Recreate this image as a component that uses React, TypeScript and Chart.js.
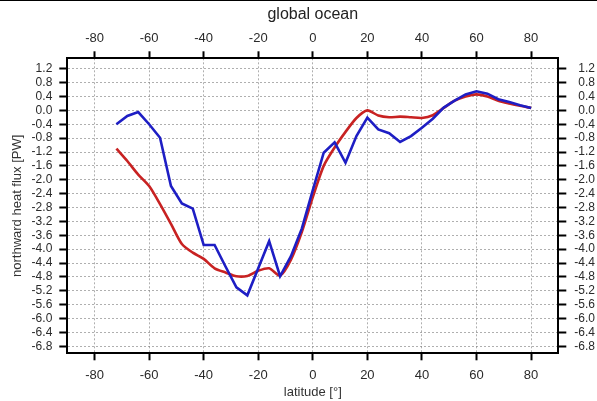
import React, { useEffect, useRef } from "react";
import { Chart, registerables } from "chart.js";

Chart.register(...registerables);

// latitude grid [deg]
const latitudes = [
  -72, -68, -64, -60, -56, -52, -48, -44, -40, -36, -32, -28, -24, -20, -16, -12, -8, -4, 0,
  4, 8, 12, 16, 20, 24, 28, 32, 36, 40, 44, 48, 52, 56, 60, 64, 68, 72, 76, 80,
];

// red curve (model) northward heat flux [PW]
const modelFlux = [
  -1.10, -1.46, -1.85, -2.18, -2.70, -3.27, -3.85, -4.10, -4.28, -4.55, -4.67, -4.78, -4.77, -4.62,
  -4.55, -4.76, -4.30, -3.50, -2.50, -1.60, -1.07, -0.62, -0.22, 0.00, -0.15, -0.20, -0.18, -0.20,
  -0.22, -0.14, 0.07, 0.28, 0.40, 0.46, 0.40, 0.28, 0.20, 0.13, 0.07,
];

// blue curve (observation-based) northward heat flux [PW]
const obsFlux = [
  -0.40, -0.16, -0.05, -0.40, -0.79, -2.18, -2.68, -2.83, -3.88, -3.88, -4.50, -5.10, -5.33, -4.55,
  -3.77, -4.78, -4.20, -3.40, -2.30, -1.22, -0.92, -1.51, -0.74, -0.21, -0.55, -0.66, -0.91, -0.74,
  -0.50, -0.24, 0.08, 0.28, 0.46, 0.55, 0.48, 0.32, 0.24, 0.15, 0.07,
];

const xTickValues = [-80, -60, -40, -20, 0, 20, 40, 60, 80];
const yTickValues = [
  1.2, 0.8, 0.4, 0.0, -0.4, -0.8, -1.2, -1.6, -2.0, -2.4, -2.8, -3.2, -3.6, -4.0, -4.4, -4.8,
  -5.2, -5.6, -6.0, -6.4, -6.8,
];

const titleText = "global ocean";
const xTitle = "latitude [°]";
const yTitle = "northward heat flux [PW]";

const FONT = "'Liberation Sans', Arial, Helvetica, sans-serif";
const RED = "#c82222";
const BLUE = "#1e1ec4";

export default function App() {
  const ref = useRef<HTMLCanvasElement>(null);

  useEffect(() => {
    if (!ref.current) return;
    const setX = (s: any) => {
      s.ticks = xTickValues.map((v) => ({ value: v }));
    };
    const setY = (s: any) => {
      s.ticks = yTickValues.map((v) => ({ value: v }));
    };
    const gridOn = {
      display: true,
      drawOnChartArea: true,
      color: "rgba(110,110,110,0.55)",
      lineWidth: 1,
      tickColor: "#000",
      tickWidth: 2,
    };
    const gridOff = { ...gridOn, drawOnChartArea: false };
    const border = { display: true, color: "#000", width: 2, dash: [2, 2] };
    const xTickFont = { family: FONT, size: 13 };
    const yTickFont = { family: FONT, size: 12 };

    const topLine = {
      id: "topLine",
      afterDraw(chart: any) {
        const { ctx } = chart;
        ctx.save();
        ctx.fillStyle = "#000";
        ctx.fillRect(0, 0, chart.width, 1);
        ctx.restore();
      },
    };

    const chart = new Chart(ref.current, {
      type: "line",
      data: {
        datasets: [
          {
            label: "blue",
            data: latitudes.map((x, i) => ({ x, y: obsFlux[i] })),
            borderColor: BLUE,
            backgroundColor: BLUE,
            borderWidth: 2.6,
            pointRadius: 0,
            tension: 0,
            xAxisID: "x",
            yAxisID: "y",
          },
          {
            label: "red",
            data: latitudes.map((x, i) => ({ x, y: modelFlux[i] })),
            borderColor: RED,
            backgroundColor: RED,
            borderWidth: 2.6,
            pointRadius: 0,
            tension: 0.25,
            xAxisID: "x",
            yAxisID: "y",
          },
        ],
      },
      options: {
        animation: false,
        responsive: true,
        maintainAspectRatio: false,
        layout: { padding: { left: 0, right: 2, top: 0, bottom: 0 } },
        plugins: {
          legend: { display: false },
          tooltip: { enabled: false },
          title: { display: false },
        },
        scales: {
          x: {
            type: "linear",
            position: "bottom",
            min: -90,
            max: 90,
            afterBuildTicks: setX,
            afterFit: (s: any) => {
              s.height = 47.7;
            },
            grid: { ...gridOn, tickLength: 7 },
            border,
            ticks: {
              autoSkip: false,
              maxRotation: 0,
              padding: 7,
              color: "#2a2a2a",
              font: xTickFont,
              callback: (v: any) => String(v),
            },
            title: {
              display: true,
              text: xTitle,
              color: "#333",
              font: { family: FONT, size: 13 },
              padding: { top: 0, bottom: 1.2 },
            },
          },
          xTop: {
            type: "linear",
            position: "top",
            min: -90,
            max: 90,
            afterBuildTicks: setX,
            afterFit: (s: any) => {
              s.height = 58.3;
            },
            grid: { ...gridOff, tickLength: 7 },
            border,
            ticks: {
              autoSkip: false,
              maxRotation: 0,
              padding: 5,
              color: "#2a2a2a",
              font: xTickFont,
              callback: (v: any) => String(v),
            },
            title: {
              display: true,
              text: titleText,
              color: "#222",
              font: { family: FONT, size: 16 },
              padding: { top: 5, bottom: 0 },
            },
          },
          y: {
            type: "linear",
            position: "left",
            min: -7,
            max: 1.5,
            afterBuildTicks: setY,
            afterFit: (s: any) => {
              s.width = 67.3;
            },
            grid: { ...gridOn, tickLength: 8 },
            border,
            ticks: {
              autoSkip: false,
              padding: 7,
              color: "#2a2a2a",
              font: yTickFont,
              callback: (v: any) => Number(v).toFixed(1),
            },
            title: {
              display: true,
              text: yTitle,
              color: "#333",
              font: { family: FONT, size: 13 },
              padding: { top: 10, bottom: 0 },
            },
          },
          yRight: {
            type: "linear",
            position: "right",
            min: -7,
            max: 1.5,
            afterBuildTicks: setY,
            afterFit: (s: any) => {
              s.width = 36.7;
            },
            grid: { ...gridOff, tickLength: 8 },
            border,
            ticks: {
              autoSkip: false,
              crossAlign: "far",
              padding: 4,
              color: "#2a2a2a",
              font: yTickFont,
              callback: (v: any) => Number(v).toFixed(1),
            },
          },
        },
      } as any,
      plugins: [topLine],
    });
    return () => chart.destroy();
  }, []);

  return (
    <div
      style={{
        position: "absolute",
        left: 0,
        top: 0,
        width: 597,
        height: 401,
        background: "#fff",
      }}
    >
      <canvas ref={ref} />
    </div>
  );
}
